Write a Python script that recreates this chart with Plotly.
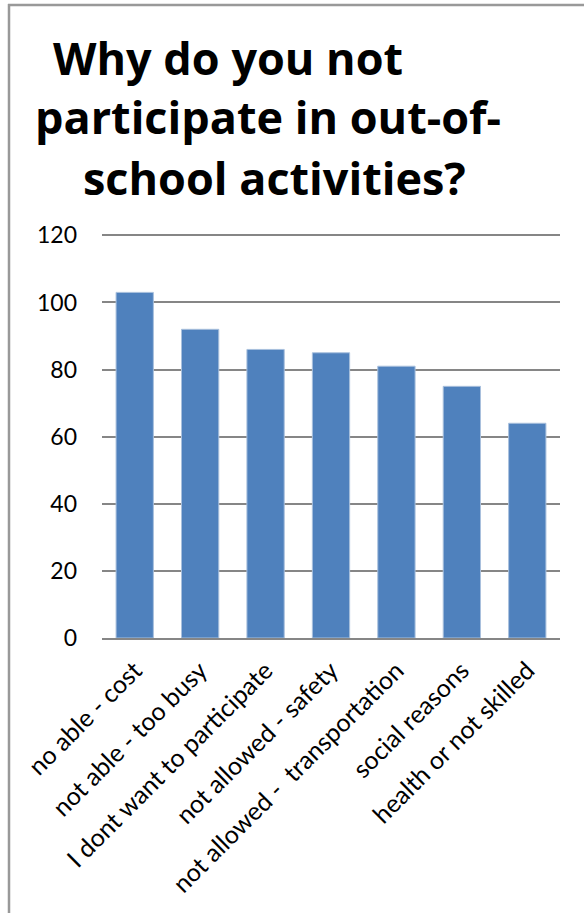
import plotly.graph_objects as go

categories = ["no able - cost", "not able - too busy", "I dont want to participate",
              "not allowed - safety", "not allowed -  transportation", "social reasons",
              "health or not skilled"]
values = [103, 92, 86, 85, 81, 75, 64]
y_ticks = [0, 20, 40, 60, 80, 100, 120]
title_lines = ["Why do you not", "participate in out-of-", "school activities?"]

W, H = 584, 913
L, R, T, B = 102, 24, 234, 275
pw = W - L - R
ph = H - T - B

def px_x(x):
    return (x - L) / pw

def px_y(y):
    return (H - B - y) / ph

fig = go.Figure(go.Bar(
    x=categories, y=values,
    marker=dict(color="#4F81BD", line=dict(color="#a9c0dd", width=1)),
    width=0.57,
))

annotations = []
title_centers = [(228, 57), (268, 117), (274, 177)]
for line, (cx, cy) in zip(title_lines, title_centers):
    annotations.append(dict(
        text="<b>%s</b>" % line, x=px_x(cx), y=px_y(cy), xref="paper", yref="paper",
        xanchor="center", yanchor="middle", showarrow=False,
        font=dict(family="Open Sans", size=45, color="#000000"),
    ))

shapes = [
    dict(type="line", xref="paper", yref="paper", x0=px_x(9), x1=px_x(9), y0=px_y(4), y1=px_y(H + 5),
         line=dict(color="#999999", width=2.5)),
    dict(type="line", xref="paper", yref="paper", x0=px_x(8), x1=px_x(W + 5), y0=px_y(5), y1=px_y(5),
         line=dict(color="#999999", width=2.5)),
]

fig.update_layout(
    width=W, height=H,
    margin=dict(l=L, r=R, t=T, b=B, pad=0),
    paper_bgcolor="white", plot_bgcolor="white",
    showlegend=False,
    bargap=0.43,
    font=dict(family="Lato", color="#000000"),
    annotations=annotations,
    shapes=shapes,
    xaxis=dict(
        tickangle=-45, tickfont=dict(size=25, family="Lato", color="#000000"),
        showgrid=False, showline=True, linecolor="#868686", linewidth=2,
        ticks="", automargin=False, ticklabelstandoff=6,
    ),
    yaxis=dict(
        range=[0, 120.4], tickvals=y_ticks, ticktext=[str(v) for v in y_ticks],
        tickfont=dict(size=23, family="Lato", color="#000000"),
        showgrid=True, gridcolor="#868686", gridwidth=2,
        zeroline=False, showline=False, ticks="", ticklabelstandoff=24,
        automargin=False,
    ),
)

fig.write_html("out.html")
